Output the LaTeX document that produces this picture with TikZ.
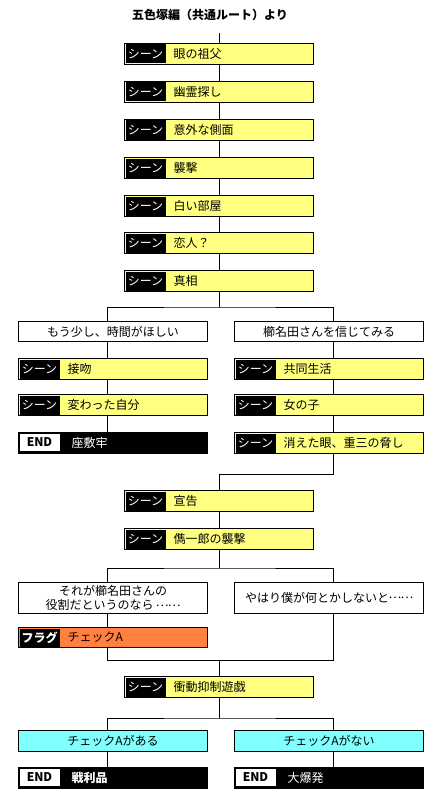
\documentclass[tikz,border=0pt]{standalone}
\usepackage{fontspec}
\setmainfont{Noto Sans CJK JP}
\usetikzlibrary{calc}
\definecolor{sceneyellow}{RGB}{255,255,128}
\definecolor{flagorange}{RGB}{255,128,64}
\definecolor{checkcyan}{RGB}{128,255,255}
\newcommand{\middots}{\makebox[1em]{\raisebox{0.32em}{…}}}
\newcommand{\makescene}[4]{
	\node[box, fill=sceneyellow] (#1) at (#2,#3) {};
	\node[tag] at ([xshift=1pt]#1.west) {シーン};
	\node[label text] at ([xshift=49pt]#1.west) {#4};
}
\newcommand{\makeend}[4]{
	\node[box, fill=black] (#1) at (#2,#3) {};
	\node[tag, fill=white, text=black, minimum height=17pt, font=\fontsize{12}{14}\selectfont\bfseries] at ([xshift=1pt,yshift=0.5pt]#1.west) {END};
	\node[label text, text=white] at ([xshift=53pt]#1.west) {#4};
}

\begin{document}
\begin{tikzpicture}[x=1pt,y=-1pt,
	font=\fontsize{12}{14}\selectfont,
	line width=1pt,
	box/.style={draw=black, line width=1pt, anchor=north west, minimum width=189pt, minimum height=21pt, inner sep=0pt},
	tag/.style={anchor=west, fill=black, text=white, minimum width=40pt, minimum height=19pt, inner sep=0pt},
	label text/.style={anchor=west, inner sep=0pt},
	choice/.style={box, fill=white, align=center, font=\fontsize{12}{14.5}\selectfont}]
	\useasboundingbox (0,0) rectangle (432,797);

	% column lines
	\coordinate (colL) at (107,0);
	\coordinate (colC) at (219,0);
	\coordinate (colR) at (333,0);
	\coordinate (top) at (219,33);
	\coordinate (br1) at (219,307);
	\coordinate (mg1) at (219,474);
	\coordinate (br2) at (219,568);
	\coordinate (mg2) at (219,660);
	\coordinate (br3) at (219,718);

	\node[font=\fontsize{12}{14}\selectfont\bfseries] (title) at (210,15) {五色塚編（共通ルート）より};

	% common route
	\makescene{s1}{124}{43}{眼の祖父}
	\makescene{s2}{124}{81}{幽霊探し}
	\makescene{s3}{124}{119}{意外な側面}
	\makescene{s4}{124}{157}{襲撃}
	\makescene{s5}{124}{195}{白い部屋}
	\makescene{s6}{124}{232}{恋人？}
	\makescene{s7}{124}{270}{真相}

	% first choice
	\node[choice, minimum height=20pt] (q1) at (18,321) {もう少し、時間がほしい};
	\node[choice, minimum height=20pt] (q2) at (234,321) {櫛名田さんを信じてみる};
	\makescene{l1}{18}{358}{接吻}
	\makescene{l2}{18}{394}{変わった自分}
	\makeend{e1}{18}{432}{座敷牢}
	\makescene{r1}{234}{358}{共同生活}
	\makescene{r2}{234}{394}{女の子}
	\makescene{r3}{234}{432}{消えた眼、重三の脅し}

	\makescene{s8}{124}{490}{宣告}
	\makescene{s9}{124}{528}{儁一郎の襲撃}

	% second choice
	\node[choice, minimum height=31pt] (p1) at (18,582) {それが櫛名田さんの\\役割だというのなら \middots\middots};
	\node[choice, minimum height=31pt] (p2) at (234,582) {やはり僕が何とかしないと\middots\middots};
	\node[box, fill=flagorange, minimum height=20pt] (flag) at (18,627) {};
	\node[tag, minimum height=18pt, font=\fontsize{12}{14}\selectfont\bfseries] at ([xshift=1pt]flag.west) {フラグ};
	\node[label text] at ([xshift=49pt]flag.west) {チェックA};

	\makescene{s10}{124}{676}{衝動抑制遊戯}

	% flag check
	\node[choice, fill=checkcyan] (c1) at (18,730) {チェックAがある};
	\node[choice, fill=checkcyan] (c2) at (234,730) {チェックAがない};
	\makeend{e2}{18}{767}{\bfseries 戦利品}
	\makeend{e3}{234}{767}{大爆発}

	\draw (top) -- (s1.north -| colC);
	\draw (s1.south -| colC) -- (s2.north -| colC);
	\draw (s2.south -| colC) -- (s3.north -| colC);
	\draw (s3.south -| colC) -- (s4.north -| colC);
	\draw (s4.south -| colC) -- (s5.north -| colC);
	\draw (s5.south -| colC) -- (s6.north -| colC);
	\draw (s6.south -| colC) -- (s7.north -| colC);
	\draw (s7.south -| colC) -- (br1);
	\draw (q1.north -| colL) |- (br1) -| (q2.north -| colR);
	\draw (q1.south -| colL) -- (l1.north -| colL);
	\draw (l1.south -| colL) -- (l2.north -| colL);
	\draw (l2.south -| colL) -- (e1.north -| colL);
	\draw (q2.south -| colR) -- (r1.north -| colR);
	\draw (r1.south -| colR) -- (r2.north -| colR);
	\draw (r2.south -| colR) -- (r3.north -| colR);
	\draw (r3.south -| colR) |- (mg1) -- (s8.north -| colC);
	\draw (s8.south -| colC) -- (s9.north -| colC);
	\draw (s9.south -| colC) -- (br2);
	\draw (p1.north -| colL) |- (br2) -| (p2.north -| colR);
	\draw (p1.south -| colL) -- (flag.north -| colL);
	\draw (flag.south -| colL) |- (mg2);
	\draw (p2.south -| colR) |- (mg2) -- (s10.north -| colC);
	\draw (s10.south -| colC) -- (br3);
	\draw (c1.north -| colL) |- (br3) -| (c2.north -| colR);
	\draw (c1.south -| colL) -- (e2.north -| colL);
	\draw (c2.south -| colR) -- (e3.north -| colR);
\end{tikzpicture}
\end{document}
